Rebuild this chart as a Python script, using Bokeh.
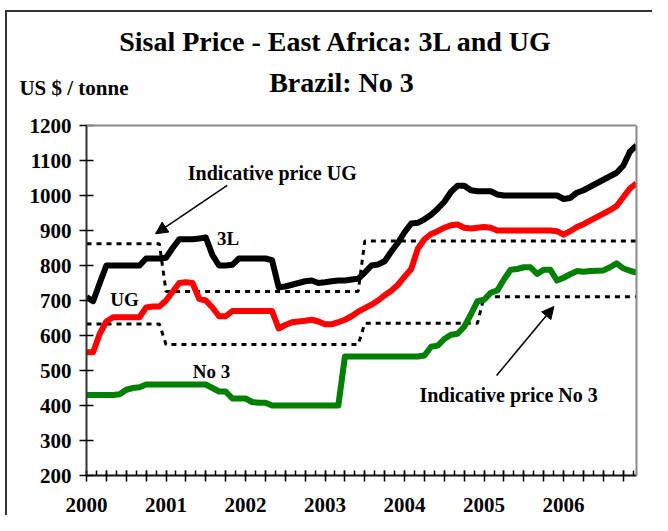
import json
from bokeh.plotting import figure
from bokeh.models import (Range1d, FixedTicker, CustomJSTickFormatter, Label,
                          Arrow, NormalHead, LinearAxis, Span)
from bokeh.embed import file_html
from bokeh.resources import INLINE

# ---------------- data (monthly, Jan 2000 .. Dec 2006) ----------------
month_index = list(range(84))

price_3L = [710, 698, 750, 800, 800, 800, 800, 800, 800, 820, 820, 820,
            822, 850, 875, 875, 875, 877, 880, 830, 800, 800, 802, 820,
            820, 820, 820, 820, 815, 738, 740, 745, 750, 755, 757, 750,
            752, 755, 757, 757, 760, 762, 780, 800, 803, 812, 840, 865,
            895, 920, 922, 932, 945, 962, 982, 1010, 1028, 1028, 1015, 1012,
            1012, 1012, 1003, 1000, 1000, 1000, 1000, 1000, 1000, 1000, 1000, 1000,
            990, 993, 1008, 1015, 1025, 1035, 1045, 1055, 1065, 1085, 1125, 1143]

price_UG = [552, 552, 605, 640, 652, 652, 652, 652, 652, 680, 683, 683,
            700, 725, 750, 752, 750, 705, 700, 680, 655, 655, 670, 670,
            670, 670, 670, 670, 670, 620, 630, 638, 640, 642, 645, 640,
            632, 632, 638, 645, 655, 668, 678, 688, 700, 715, 728, 745,
            768, 790, 848, 875, 890, 898, 908, 915, 917, 908, 906, 908,
            910, 908, 900, 900, 900, 900, 900, 900, 900, 900, 900, 898,
            888, 898, 910, 918, 928, 938, 948, 958, 970, 995, 1020, 1035]

price_No3 = [430, 430, 430, 430, 430, 432, 445, 450, 452, 460, 460, 460,
             460, 460, 460, 460, 460, 460, 460, 450, 440, 440, 420, 420,
             420, 410, 408, 408, 400, 400, 400, 400, 400, 400, 400, 400,
             400, 400, 400, 540, 540, 540, 540, 540, 540, 540, 540, 540,
             540, 540, 540, 543, 568, 571, 590, 602, 605, 625, 660, 698,
             702, 722, 729, 760, 788, 790, 795, 795, 776, 788, 788, 757,
             765, 775, 784, 782, 784, 785, 786, 795, 806, 792, 785, 780]

indicative_UG = [862] * 12 + [726] * 30 + [870] * 42
indicative_No3 = [633] * 12 + [574] * 30 + [635] * 18 + [711] * 24

y_ticks = [200, 300, 400, 500, 600, 700, 800, 900, 1000, 1100, 1200]

TITLE_1 = "Sisal Price - East Africa: 3L and UG"
TITLE_2 = "Brazil: No 3"
UNIT_LABEL = "US $ / tonne"

x = [2000 + m / 12 for m in month_index]

FONT = "Liberation Serif"
W, H = 652, 515
FRAME_TOP_PX, Y1200_PX, FRAME_BOTTOM_PX = 0, 125, 475
PX_PER_UNIT = (FRAME_BOTTOM_PX - Y1200_PX) / 1000.0
Y_TOP = 1200 + (Y1200_PX - FRAME_TOP_PX) / PX_PER_UNIT  # frame extends above 1200 for titles

p = figure(width=W, height=H, output_backend="svg", toolbar_location=None,
           title=None, x_range=Range1d(2000, 2000 + 83 / 12),
           y_range=Range1d(200, Y_TOP),
           min_border_left=86, min_border_right=16, min_border_top=0,
           min_border_bottom=40)
p.background_fill_color = None
p.border_fill_color = None
p.outline_line_color = None
p.grid.visible = False
p.styles = {
    "background": ("linear-gradient(#333, #333) 5px 10px / 647px 2px no-repeat, "
                   "linear-gradient(#333, #333) 5px 10px / 2px 505px no-repeat, white"),
}

# plot-area top edge (grey)
p.add_layout(Span(location=1200, dimension="width", line_color="#8a8a8a", line_width=2))

# indicative price lines
p.line(x, indicative_UG, line_color="black", line_width=3, line_dash="5 5")
p.line(x, indicative_No3, line_color="black", line_width=3, line_dash="5 5")

# price series
p.line(x, price_3L, line_color="black", line_width=6, line_join="round")
p.line(x, price_UG, line_color="#ff0000", line_width=6, line_join="round")
p.line(x, price_No3, line_color="#008000", line_width=6, line_join="round")

# ---- x axis
quarters = [2000 + 0.25 * k for k in range(28)]
eighths = [2000 + 0.125 * k for k in range(56)]
xa = p.xaxis[0]
xa.ticker = FixedTicker(ticks=quarters, minor_ticks=eighths)
xa.formatter = CustomJSTickFormatter(code="""
    const r = Math.round(tick);
    return (Math.abs(tick - r) < 1e-6) ? String(r) : "";
""")
xa.major_tick_in = 5
xa.major_tick_out = 6
xa.minor_tick_in = 5
xa.minor_tick_out = 0
xa.axis_line_width = 2
xa.axis_line_color = "#111"
xa.major_tick_line_width = 1.5
xa.minor_tick_line_width = 1.5
xa.major_label_text_font = FONT
xa.major_label_text_font_style = "bold"
xa.major_label_text_font_size = "21px"
xa.major_label_text_color = "black"
xa.major_label_text_line_height = 0.8
xa.major_label_standoff = 16

# ---- y axis (only spans 200..1200)
ya = p.yaxis[0]
ya.bounds = (200, 1200)
ya.ticker = FixedTicker(ticks=y_ticks, minor_ticks=[])
ya.major_tick_in = 7
ya.major_tick_out = 7
ya.axis_line_width = 2
ya.axis_line_color = "#333"
ya.major_tick_line_width = 1.5
ya.major_label_text_font = FONT
ya.major_label_text_font_style = "bold"
ya.major_label_text_font_size = "21px"
ya.major_label_text_color = "black"
ya.major_label_standoff = 8

# unit label drawn as the single tick label of an outer left axis
UNIT_Y = 1200 + (Y1200_PX - 87) / PX_PER_UNIT
unit_axis = LinearAxis(ticker=FixedTicker(ticks=[UNIT_Y], minor_ticks=[]),
                       formatter=CustomJSTickFormatter(code="return %s;" % json.dumps(UNIT_LABEL)),
                       axis_line_color=None, major_tick_line_color=None,
                       minor_tick_line_color=None, major_tick_out=0, major_tick_in=0,
                       major_label_standoff=-102,
                       major_label_text_font=FONT, major_label_text_font_style="bold",
                       major_label_text_font_size="21px", major_label_text_color="black")
p.add_layout(unit_axis, "left")

# right grey edge of the plot area
right_axis = LinearAxis(ticker=FixedTicker(ticks=[], minor_ticks=[]), bounds=(200, 1200),
                        axis_line_color="#8a8a8a", axis_line_width=2,
                        major_tick_line_color=None, minor_tick_line_color=None,
                        major_label_text_font_size="0px")
p.add_layout(right_axis, "right")


def add_label(xv, yv, text, size="20px"):
    p.add_layout(Label(x=xv, y=yv, text=text, text_font=FONT,
                       text_font_style="bold", text_font_size=size,
                       text_align="center", text_baseline="alphabetic",
                       text_color="black"))


# titles (inside the extended plot frame, above the 1200 line)
add_label(2003.145, 1439, TITLE_1, size="28px")
add_label(2003.207, 1322, TITLE_2, size="28px")

# series / annotation labels
add_label(2002.336, 1063, "Indicative price UG")
add_label(2001.78, 877, "3L", size="19px")
add_label(2000.478, 704, "UG", size="19px")
add_label(2001.572, 497, "No 3", size="19px")
add_label(2005.308, 429, "Indicative price No 3")

p.add_layout(Arrow(end=NormalHead(size=12, fill_color="black", line_color="black"),
                   x_start=2001.770, y_start=1028.6, x_end=2000.868, y_end=890.6,
                   line_width=1.5, line_color="black"))
p.add_layout(Arrow(end=NormalHead(size=12, fill_color="black", line_color="black"),
                   x_start=2005.157, y_start=485.7, x_end=2005.878, y_end=682.9,
                   line_width=1.5, line_color="black"))

open("out.html", "w").write(file_html(p, INLINE))
